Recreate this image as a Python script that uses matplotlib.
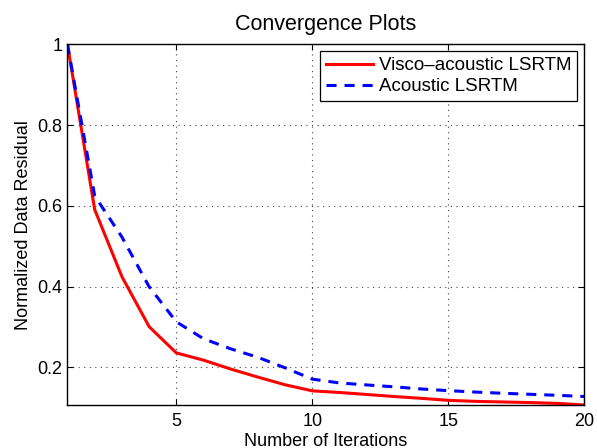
import matplotlib
matplotlib.use("Agg")
import matplotlib.pyplot as plt

iterations = list(range(1, 21))
visco = [1.0, 0.591, 0.425, 0.301, 0.236, 0.218, 0.196, 0.176, 0.157, 0.142,
         0.138, 0.133, 0.128, 0.1235, 0.1185, 0.116, 0.1145, 0.113, 0.111, 0.107]
acoustic = [1.0, 0.625, 0.523, 0.400, 0.313, 0.271, 0.246, 0.225, 0.199, 0.171,
            0.1615, 0.1566, 0.152, 0.1467, 0.1425, 0.139, 0.136, 0.1335, 0.131, 0.128]
xticks = [5, 10, 15, 20]
yticks = [0.2, 0.4, 0.6, 0.8, 1.0]
ytick_labels = ["0.2", "0.4", "0.6", "0.8", "1"]

plt.rcParams['font.family'] = ['Liberation Sans', 'DejaVu Sans']

fig = plt.figure(figsize=(5.97, 4.48), dpi=100)
ax = fig.add_axes([0.113, 0.096, 0.866, 0.805])

ax.plot(iterations, visco, color='#ff0000', lw=2.2, label='Visco\u2013acoustic LSRTM')
ax.plot(iterations, acoustic, color='#0000ff', lw=2.2, linestyle=(0, (3.3, 2.6)),
        label='Acoustic LSRTM')

ax.set_xlim(1, 20)
ax.set_ylim(min(visco), 1.0)
ax.set_xticks(xticks)
ax.set_yticks(yticks)
ax.set_yticklabels(ytick_labels)
ax.tick_params(direction='in', top=True, right=True, labelsize=13, length=4,
               width=0.8)
ax.tick_params(axis='x', pad=6)
ax.tick_params(axis='y', pad=3.5)
ax.grid(True, linestyle=(0, (1, 4)), color='#444444', linewidth=0.8)
for s in ax.spines.values():
    s.set_linewidth(1.0)

ax.set_title('Convergence Plots', fontsize=15.5, pad=10)
ax.set_xlabel('Number of Iterations', fontsize=13, labelpad=2)
ax.set_ylabel('Normalized Data Residual', fontsize=13, labelpad=4)

leg = ax.legend(loc='upper right', fontsize=13.5, frameon=True, fancybox=False,
                edgecolor='black', framealpha=1, borderpad=0.3, labelspacing=0.22,
                handlelength=2.5, handletextpad=0.35, borderaxespad=0.38)
leg.get_frame().set_linewidth(0.9)

fig.savefig('out.png', dpi=100)
